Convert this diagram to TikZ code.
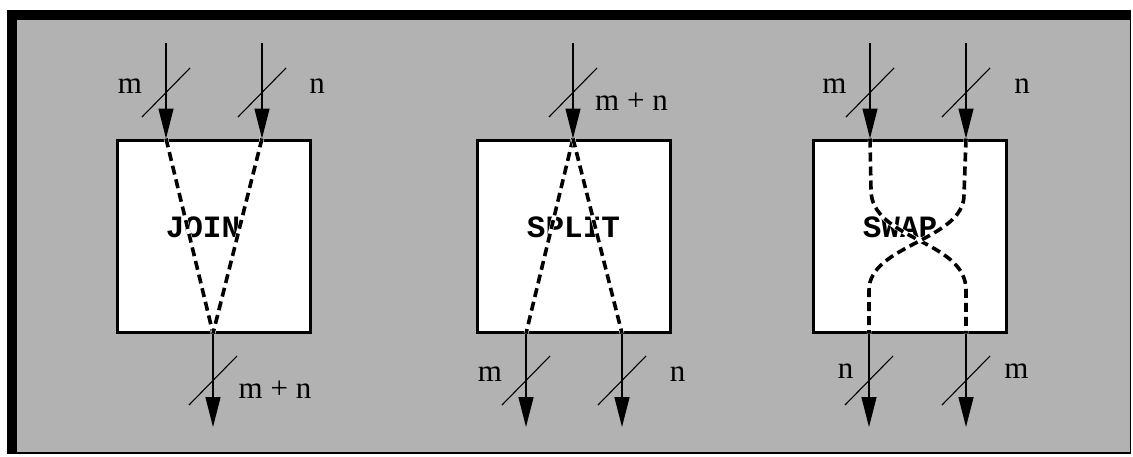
\documentclass[tikz,border=0pt]{standalone}
\usepackage{fontspec}
\setmainfont{Liberation Serif}
\newfontfamily\boxfont{Liberation Mono}
\usetikzlibrary{arrows.meta}
\definecolor{bg}{gray}{0.7}
\newcommand\busmark[1]{\draw[slashmark] (#1) ++(-24,24.5) -- ++(48,-49);}
\begin{document}
\begin{tikzpicture}[x=1pt,y=-1pt,
  lab/.style={font=\fontsize{31}{31}\selectfont, anchor=base, inner sep=0pt},
  boxlab/.style={font=\boxfont\bfseries\fontsize{31}{31}\selectfont, anchor=base, inner sep=0pt},
  opbox/.style={draw, fill=white, line width=3pt, minimum width=193pt, minimum height=192pt, inner sep=0pt},
  bus/.style={line width=1.3pt, -{Triangle[length=30pt,width=15pt]}},
  slashmark/.style={line width=1.1pt},
  wire/.style={line width=3.6pt, dash pattern=on 9pt off 5pt,
    preaction={draw=white, line width=4.5pt, solid}},
]
\useasboundingbox (0,0) rectangle (1133,456);
\fill[white] (0,0) rectangle (1133,456);
\fill[black] (7,10) rectangle (1131,454);
\fill[bg] (17,20) rectangle (1130,452);

% boxes
\node[opbox] (join) at (213.5,236) {};
\node[opbox] (split) at (573.5,236) {};
\node[opbox] (swap) at (909.5,236) {};

\node[boxlab] (tjoin) at (203,237) {JOIN};
\node[boxlab] (tsplit) at (573.5,237) {SPLIT};
\node[boxlab] (tswap) at (900,237) {SWAP};

% ---------- JOIN ----------
\coordinate (j1s) at (166,43);
\coordinate (j2s) at (262,43);
\coordinate (j1e) at (j1s |- join.north);
\coordinate (j2e) at (j2s |- join.north);
\coordinate (jos) at (213,0 |- join.south);
\coordinate (joe) at (213,427);
\draw[wire] (j1e) -- (jos);
\draw[wire] (j2e) -- (jos);
\draw[bus] (j1s) -- (j1e);
\draw[bus] (j2s) -- (j2e);
\draw[bus] (jos) -- (joe);
\busmark{166,92.5}
\busmark{262,92.5}
\busmark{213,380.5}
\node[lab] (jlm) at (130,93) {m};
\node[lab] (jln) at (317,93) {n};
\node[lab] (jlo) at (275,398) {m + n};

% ---------- SPLIT ----------
\coordinate (sis) at (573,43);
\coordinate (sie) at (sis |- split.north);
\coordinate (s1s) at (526,0 |- split.south);
\coordinate (s2s) at (622,0 |- split.south);
\coordinate (s1e) at (526,427);
\coordinate (s2e) at (622,427);
\draw[wire] (sie) -- (s1s);
\draw[wire] (sie) -- (s2s);
\draw[bus] (sis) -- (sie);
\draw[bus] (s1s) -- (s1e);
\draw[bus] (s2s) -- (s2e);
\busmark{573,92.5}
\busmark{526,380.5}
\busmark{622,380.5}
\node[lab] (slt) at (631.5,110) {m + n};
\node[lab] (slm) at (490,381) {m};
\node[lab] (sln) at (677.5,381) {n};

% ---------- SWAP ----------
\coordinate (w1s) at (870,43);
\coordinate (w2s) at (966,43);
\coordinate (w1e) at (w1s |- swap.north);
\coordinate (w2e) at (w2s |- swap.north);
\coordinate (w1o) at (869,0 |- swap.south);
\coordinate (w2o) at (966,0 |- swap.south);
\coordinate (w1f) at (869,427);
\coordinate (w2f) at (966,427);
\draw[wire] (w1e) -- (871,190) .. controls (871,240) and (966,240) .. (966,290) -- (w2o);
\draw[wire] (w2e) -- (964,195) .. controls (964,240) and (869,245) .. (869,290) -- (w1o);
\draw[bus] (w1s) -- (w1e);
\draw[bus] (w2s) -- (w2e);
\draw[bus] (w1o) -- (w1f);
\draw[bus] (w2o) -- (w2f);
\busmark{870,92.5}
\busmark{966,92.5}
\busmark{869,380.5}
\busmark{966,380.5}
\node[lab] (wlm) at (834.5,93) {m};
\node[lab] (wln) at (1022,93) {n};
\node[lab] (wbn) at (845.5,378) {n};
\node[lab] (wbm) at (1016.5,378) {m};
\end{tikzpicture}
\end{document}
